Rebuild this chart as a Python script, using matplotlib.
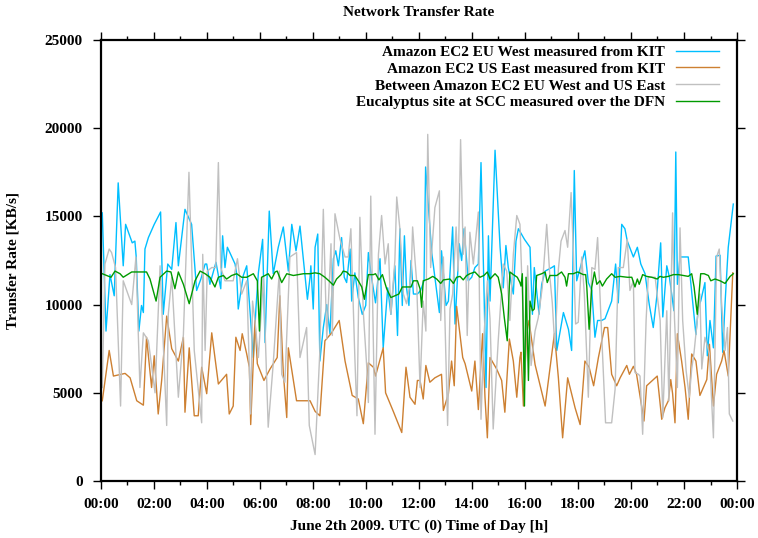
import matplotlib
matplotlib.use("Agg")
import matplotlib.pyplot as plt
from matplotlib.ticker import MultipleLocator, FuncFormatter

# time of day in hours, rates in KB/s
eu_t = [0.05, 0.19, 0.34, 0.50, 0.65, 0.84, 0.93, 1.18, 1.28, 1.33, 1.43, 1.53, 1.60, 1.66, 1.79, 2.01, 2.25, 2.35, 2.52, 2.67, 2.83, 2.92, 3.17, 3.42, 3.61, 3.77, 3.93,
        3.99, 4.11, 4.34, 4.52, 4.59, 4.68, 4.77, 5.06, 5.12, 5.18, 5.37, 5.50, 5.75, 5.85, 5.94, 6.10, 6.19, 6.35, 6.50, 6.69, 6.88, 7.07, 7.20, 7.36, 7.51, 7.79, 7.89,
        7.92, 8.01, 8.08, 8.18, 8.26, 8.39, 8.52, 8.64, 8.77, 8.86, 8.96, 9.08, 9.18, 9.27, 9.40, 9.46, 9.58, 9.71, 9.86, 9.99, 10.09, 10.21, 10.36, 10.53, 10.65, 10.82, 10.94, 11.09, 11.19, 11.28, 11.37, 11.45, 11.53, 11.62, 11.70, 11.79,
        11.94, 12.06, 12.19, 12.25, 12.48, 12.60, 12.77, 12.85, 13.02, 13.11, 13.27, 13.36, 13.52, 13.61, 13.70, 13.86, 13.99, 14.11, 14.24, 14.34, 14.45, 14.53, 14.62, 14.68, 14.87, 15.06, 15.18, 15.28, 15.37, 15.56, 15.66, 15.75,
        15.98, 16.19, 16.28, 16.35, 16.53, 16.63, 16.76, 17.01, 17.11, 17.20, 17.45, 17.64, 17.76, 17.86, 17.95, 18.26, 18.39, 18.52, 18.64, 18.74, 18.89, 19.02, 19.27, 19.42, 19.52, 19.65, 19.77,
        19.86, 20.09, 20.24, 20.37, 20.53, 20.69, 20.84, 20.97, 21.12, 21.20, 21.35, 21.45, 21.57, 21.62, 21.69, 21.75, 21.85, 22.16, 22.29, 22.45, 22.54, 22.63, 22.79, 22.88, 22.98, 23.11, 23.21, 23.36, 23.46, 23.55, 23.67, 23.86]
eu_rate = [15200, 8500, 11700, 10500, 16900, 12200, 14550, 13500, 13600, 12700, 8500, 9950, 9550, 13150, 13800, 14550, 15250, 9450, 12300, 12000, 14650, 12200, 15400, 14550, 10800, 11450, 12300,
           12300, 11150, 12400, 10900, 13900, 12100, 13250, 12300, 11750, 9750, 11650, 12200, 7000, 9850, 11800, 13700, 7850, 15300, 11750, 13250, 14400, 11900, 14550, 13050, 14450, 10300, 11550,
           12200, 9750, 13250, 14000, 6800, 8700, 10000, 8350, 12600, 13050, 12200, 13800, 11550, 11250, 13150, 10200, 11800, 10400, 9450, 9950, 12950, 11550, 10100, 12600, 7550, 10950, 9450, 12200, 8250, 14300, 9950, 13900, 10950, 9950, 12500, 10600,
           10600, 10800, 11350, 17800, 12950, 11550, 9550, 13050, 9950, 10200, 14400, 8900, 13450, 12500, 14300, 11350, 11550, 12100, 12300, 18050, 11050, 5300, 13900, 10200, 18750, 13250, 10950, 13350, 12100, 10600, 13600, 14300,
           13700, 13250, 9450, 12100, 9450, 11150, 11900, 12100, 12200, 7400, 9550, 8600, 7400, 17600, 11350, 13050, 11250, 10800, 8150, 9100, 9100, 9200, 10200, 12300, 10100, 14550, 14300,
           13600, 12700, 13250, 12300, 11750, 10000, 8700, 10400, 13500, 9300, 12200, 11550, 10200, 9650, 18650, 11150, 12700, 12700, 10700, 8300, 9850, 10200, 11250, 7100, 9100, 7550, 12750, 12800, 7300, 10100, 13250, 15700]

us_t = [0.05, 0.31, 0.47, 0.91, 1.10, 1.35, 1.60, 1.72, 1.91, 2.01, 2.16, 2.29, 2.48, 2.67, 2.92, 3.11, 3.17, 3.33, 3.52, 3.67, 3.80,
        3.99, 4.18, 4.43, 4.74, 4.84, 4.99, 5.09, 5.25, 5.33, 5.50, 5.60, 5.65, 5.81, 5.90, 6.15, 6.38, 6.65, 6.75, 6.88, 7.01, 7.07, 7.38, 7.89,
        8.08, 8.26, 8.45, 8.68, 8.99, 9.21, 9.48, 9.71, 9.90, 10.09, 10.28, 10.36, 10.65, 10.74, 11.03, 11.35, 11.51, 11.66, 11.85,
        11.94, 12.04, 12.16, 12.26, 12.41, 12.60, 12.85, 12.92, 13.11, 13.23, 13.33, 13.42, 13.65, 13.74, 13.99, 14.11, 14.24, 14.40, 14.49, 14.58, 14.68, 14.93, 15.12, 15.24, 15.41, 15.56, 15.69, 15.81,
        15.85, 15.94, 16.06, 16.15, 16.38, 16.76, 17.11, 17.26, 17.42, 17.61, 17.89, 18.08, 18.26, 18.42, 18.59, 18.77, 19.00, 19.12, 19.27, 19.46, 19.59,
        19.84, 19.94, 20.09, 20.21, 20.37, 20.49, 20.59, 20.99, 21.16, 21.28, 21.41, 21.50, 21.57, 21.66, 21.75, 21.91, 22.04, 22.16, 22.29, 22.45, 22.60, 22.86, 22.96, 23.11, 23.23, 23.42, 23.51, 23.67, 23.84]
us_rate = [4550, 7400, 5950, 6100, 5850, 4550, 4300, 8150, 5300, 7100, 3800, 5700, 9350, 7500, 6800, 8150, 3900, 7550, 3700, 3700, 6450,
           4950, 8400, 5500, 6050, 3800, 4250, 8150, 7400, 8350, 7200, 6450, 3200, 9100, 6650, 5700, 6350, 7000, 10500, 6150, 3600, 7550, 4550, 4550,
           3950, 3700, 7950, 8350, 9100, 6800, 4850, 4650, 3250, 6700, 6450, 5950, 7550, 5000, 3950, 2750, 6450, 4750, 4350,
           5700, 5700, 4650, 6550, 5600, 5850, 6050, 4000, 4950, 6800, 5400, 9900, 7000, 6650, 5100, 6800, 4050, 8350, 4750, 2450, 7000, 6350, 5700, 3900, 8050, 6800, 4750, 7000,
           7300, 4250, 8350, 9100, 6600, 4250, 8350, 5850, 2450, 5850, 4150, 3200, 6800, 6450, 5400, 7000, 8700, 8700, 6050, 5400, 5850,
           6550, 6050, 6500, 6050, 4550, 3400, 5400, 5950, 3500, 4150, 4550, 5750, 4950, 3300, 8350, 6800, 5300, 3500, 7200, 6800, 4850, 5750, 7750, 4250, 6050, 6800, 7400, 5950, 11800]

between_t = [0.05, 0.15, 0.31, 0.40, 0.55, 0.74, 0.84, 1.16, 1.32, 1.47, 1.60, 1.79, 2.04, 2.23, 2.48, 2.54, 2.67, 2.92, 3.11, 3.32, 3.52, 3.80, 3.84, 3.93,
             4.01, 4.18, 4.33, 4.43, 4.52, 4.68, 4.99, 5.15, 5.31, 5.50, 5.65, 5.72, 5.81, 5.94, 6.13, 6.31, 6.50, 6.73, 6.82, 6.94, 7.13, 7.38, 7.51, 7.76, 7.86,
             8.08, 8.26, 8.39, 8.52, 8.68, 8.73, 8.83, 9.02, 9.21, 9.33, 9.43, 9.58, 9.66, 9.77, 9.90, 10.03, 10.09, 10.18, 10.34, 10.47, 10.59, 10.72, 10.84, 10.94, 11.09, 11.16, 11.28, 11.41, 11.53, 11.70, 11.76, 11.85,
             11.91, 12.04, 12.16, 12.26, 12.33, 12.44, 12.60, 12.77, 12.82, 12.92, 13.08, 13.17, 13.27, 13.40, 13.48, 13.57, 13.67, 13.74, 13.82, 13.92, 14.05, 14.24, 14.34, 14.45, 14.58, 14.68, 14.80, 14.99, 15.18, 15.31, 15.43, 15.56, 15.69, 15.81,
             15.90, 16.00, 16.10, 16.23, 16.38, 16.50, 16.65, 16.82, 16.94, 17.03, 17.13, 17.26, 17.36, 17.51, 17.61, 17.74, 17.82, 17.91, 18.01, 18.14, 18.24, 18.39, 18.52, 18.64, 18.74, 18.87, 19.04, 19.27, 19.40, 19.52, 19.71,
             19.86, 19.96, 20.09, 20.15, 20.28, 20.34, 20.44, 20.57, 20.65, 20.91, 21.10, 21.20, 21.35, 21.43, 21.57, 21.64, 21.75, 21.85, 21.95, 22.08, 22.20, 22.29, 22.38, 22.60, 22.67, 22.79, 22.96, 23.11, 23.23, 23.33, 23.42, 23.55, 23.64, 23.71, 23.84]
between_rate = [5300, 12300, 13150, 12950, 12100, 4250, 11350, 10000, 12700, 5300, 8400, 7950, 5000, 12200, 3150, 9450, 11550, 4750, 8300, 17500, 7400, 3300, 12850, 7400,
                11900, 12100, 12100, 18050, 12100, 11350, 11350, 12600, 10600, 11350, 3800, 10200, 9100, 7000, 11550, 3050, 6650, 11900, 6050, 5600, 12700, 12950, 7000, 8700, 3150,
                1500, 7400, 15400, 8050, 13450, 8250, 15150, 13700, 12700, 12700, 14300, 7000, 3700, 14950, 9550, 6450, 4450, 16150, 2650, 12850, 15050, 12300, 13450, 9450, 12500, 16100, 14300, 10600, 10050, 11550, 14400, 12500,
                11350, 5300, 10200, 8500, 19650, 12100, 15500, 16450, 9100, 12700, 3150, 9750, 10600, 14400, 11900, 19350, 12850, 14400, 8250, 14100, 12300, 15250, 3500, 8150, 11350, 9200, 2950, 7950, 12300, 11900, 9100, 12850, 15050, 14550,
                10600, 6250, 12200, 6550, 8500, 9250, 10950, 14550, 11550, 10100, 7550, 12000, 13600, 14200, 13250, 16350, 13250, 8900, 9000, 12700, 10600, 4750, 12100, 12000, 13800, 9100, 3300, 3300, 5200, 12100, 12100,
                13700, 10800, 11350, 6150, 6050, 5950, 2650, 9100, 11550, 11550, 9100, 3600, 9650, 4550, 15200, 9250, 5300, 14350, 9100, 6250, 4750, 6350, 7300, 10600, 6350, 8150, 7200, 2450, 12700, 13150, 10000, 7400, 8700, 3800, 3400]

scc_t = [0.05, 0.21, 0.38, 0.53, 0.72, 0.84, 1.16, 1.72, 1.85, 2.08, 2.23, 2.48, 2.64, 2.79, 2.92, 3.11, 3.33, 3.55, 3.74, 3.93,
         4.11, 4.30, 4.43, 4.62, 4.74, 4.93, 5.12, 5.31, 5.50, 5.75, 5.90, 5.98, 6.06, 6.19, 6.31, 6.44, 6.57, 6.65, 6.82, 7.01, 7.26, 7.64, 7.89,
         8.08, 8.26, 8.45, 8.60, 8.77, 8.89, 9.06, 9.14, 9.27, 9.40, 9.58, 9.71, 9.84, 9.94, 10.09, 10.28, 10.36, 10.49, 10.62, 10.78, 10.94, 11.09, 11.24, 11.37, 11.53, 11.70, 11.79,
         11.94, 12.04, 12.10, 12.16, 12.35, 12.52, 12.67, 12.82, 12.92, 13.17, 13.30, 13.42, 13.55, 13.67, 13.80, 13.92, 14.11, 14.30, 14.45, 14.58, 14.68, 14.87, 14.99, 15.12, 15.22, 15.33, 15.43, 15.56, 15.71, 15.81,
         15.85, 15.90, 15.98, 16.04, 16.13, 16.19, 16.28, 16.35, 16.44, 16.63, 16.76, 16.84, 16.94, 17.20, 17.38, 17.51, 17.57, 17.64, 17.82, 17.99, 18.20, 18.29, 18.33, 18.42, 18.52, 18.62, 18.71, 18.83, 18.92, 19.08, 19.27, 19.40, 19.59,
         19.86, 20.03, 20.15, 20.24, 20.31, 20.44, 20.59, 20.78, 20.99, 21.09, 21.22, 21.41, 21.60, 21.79, 21.97, 22.16, 22.29, 22.38, 22.50, 22.63, 22.76, 22.92, 23.01, 23.17, 23.36, 23.55, 23.74, 23.86]
scc_rate = [11750, 11650, 11550, 11900, 11750, 11550, 11850, 11850, 11450, 10200, 11550, 11900, 11850, 10900, 11850, 11150, 10050, 11350, 11900, 11750,
            11550, 11000, 11550, 11650, 11450, 11650, 11750, 11550, 11550, 11750, 11350, 8500, 11550, 11650, 11750, 11450, 11850, 11900, 11250, 11750, 11650, 11750, 11750,
            11800, 11750, 11550, 11350, 11100, 11450, 11700, 11900, 11850, 11650, 11650, 11350, 11000, 10300, 11700, 11700, 11750, 11400, 11700, 10900, 10400, 10500, 10600, 11000, 11000, 11000, 11350,
            11350, 10900, 9850, 11350, 11450, 11600, 11450, 11200, 11400, 11450, 11200, 11550, 11600, 11400, 11650, 11750, 11850, 11550, 11650, 11850, 11450, 11750, 11550, 10600, 9250, 7950, 11850, 11700, 11550, 11250,
            11050, 11750, 4250, 11550, 5700, 10200, 9650, 9750, 11650, 11750, 11850, 11250, 11650, 11650, 11850, 11550, 11050, 11750, 11750, 11850, 11700, 11700, 11050, 8600, 11000, 11850, 11150, 11350, 11050, 11450, 11750, 11550, 11600,
            11550, 11550, 11000, 11450, 11150, 11700, 11600, 11550, 11450, 11600, 11550, 11600, 11700, 11700, 11650, 11600, 11750, 11000, 9450, 11750, 11750, 11650, 11350, 11450, 11350, 11200, 11600, 11750]

labels = ["Amazon EC2 EU West measured from KIT",
          "Amazon EC2 US East measured from KIT",
          "Between Amazon EC2 EU West and US East",
          "Eucalyptus site at SCC measured over the DFN"]

plt.rcParams['font.family'] = ['Liberation Serif', 'DejaVu Serif']
plt.rcParams['font.weight'] = 'bold'
plt.rcParams['font.size'] = 11

fig = plt.figure(figsize=(7.58, 5.38), dpi=100)
ax = fig.add_axes([0.1332, 0.1059, 0.8391, 0.8198])

ax.plot(eu_t, eu_rate, color='#00bfff', lw=1.0, label=labels[0])
ax.plot(us_t, us_rate, color='#cd8032', lw=1.0, label=labels[1])
ax.plot(between_t, between_rate, color='#c0c0c0', lw=1.0, label=labels[2])
ax.plot(scc_t, scc_rate, color='#009a00', lw=1.0, label=labels[3])

ax.set_xlim(0, 24)
ax.set_ylim(0, 25000)
ax.xaxis.set_major_locator(MultipleLocator(2))
ax.xaxis.set_minor_locator(MultipleLocator(1))
ax.yaxis.set_major_locator(MultipleLocator(5000))
ax.xaxis.set_major_formatter(FuncFormatter(lambda v, p: "%02d:00" % (int(round(v)) % 24)))
ax.tick_params(which='both', direction='out', top=True, right=True, width=1)
ax.tick_params(which='major', length=6)
ax.tick_params(axis='x', which='major', pad=6)
ax.tick_params(axis='y', which='major', pad=7)
ax.tick_params(which='minor', length=3)
for s in ax.spines.values():
    s.set_linewidth(1.6)

ax.set_title("Network Transfer Rate", fontsize=11, fontweight='bold', pad=17)
ax.set_xlabel("June 2th 2009. UTC (0) Time of Day [h]", fontweight='bold', labelpad=6)
ax.set_ylabel("Transfer Rate [KB/s]", fontweight='bold', labelpad=18)

ax.legend(loc='upper right', bbox_to_anchor=(0.988, 1.012), markerfirst=False, frameon=False,
          handlelength=2.8, handletextpad=0.7, labelspacing=0.2, borderaxespad=0.3)

fig.savefig('out.png', dpi=100)
